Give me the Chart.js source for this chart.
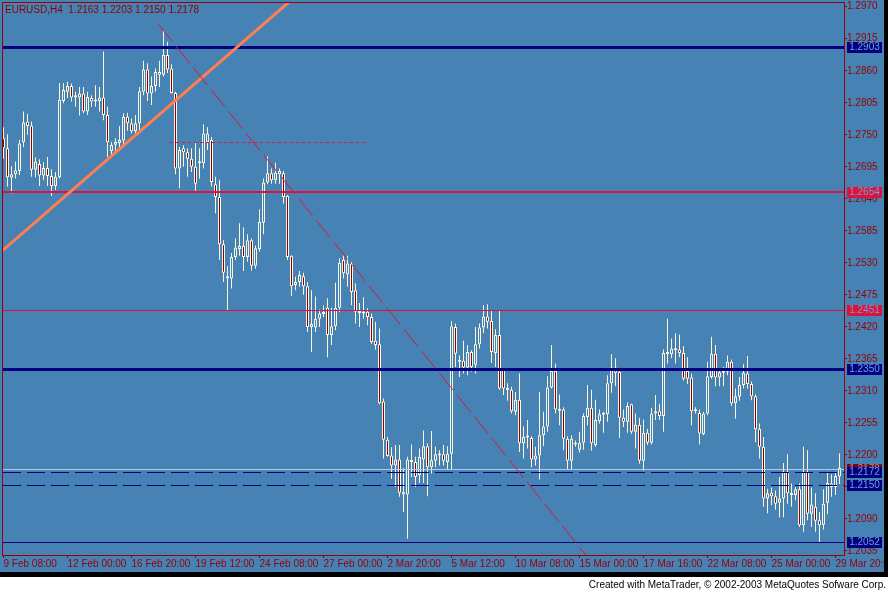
<!DOCTYPE html>
<html>
<head>
<meta charset="utf-8">
<script src="https://cdn.jsdelivr.net/npm/chart.js@4.4.0/dist/chart.umd.min.js"></script>
<style>
  html, body { margin: 0; padding: 0; background: #fff; }
  canvas { display: block; }
</style>
</head>
<body>
<canvas id="chart" width="888" height="593"></canvas>
<script>
// EURUSD H4 candles, 9 Feb 08:00 .. 30 Mar (one value per bar)
const opens = [
  1.2744,1.2727,1.2676,1.2682,1.2688,1.2737,1.2773,1.2766,1.2690,1.2700,
  1.2680,1.2693,1.2679,1.2662,1.2677,1.2808,1.2824,1.2834,1.2814,1.2814,
  1.2821,1.2790,1.2813,1.2807,1.2808,1.2814,1.2784,1.2722,1.2733,1.2736,
  1.2740,1.2781,1.2770,1.2756,1.2770,1.2824,1.2862,1.2821,1.2834,1.2858,
  1.2853,1.2887,1.2864,1.2822,1.2692,1.2727,1.2720,1.2709,1.2695,1.2701,
  1.2701,1.2737,1.2741,1.2665,1.2643,1.2562,1.2503,1.2503,1.2540,1.2554,
  1.2559,1.2540,1.2569,1.2525,1.2554,1.2599,1.2668,1.2684,1.2672,1.2682,
  1.2684,1.2645,1.2542,1.2492,1.2497,1.2507,1.2490,1.2420,1.2419,1.2434,
  1.2442,1.2453,1.2406,1.2421,1.2453,1.2535,1.2510,1.2528,1.2483,1.2444,
  1.2443,1.2446,1.2437,1.2396,1.2390,1.2292,1.2226,1.2199,1.2182,1.2192,
  1.2132,1.2132,1.2188,1.2188,1.2165,1.2192,1.2215,1.2179,1.2190,1.2199,
  1.2201,1.2188,1.2202,1.2420,1.2362,1.2362,1.2350,1.2377,1.2355,1.2390,
  1.2419,1.2438,1.2430,1.2375,1.2406,1.2346,1.2311,1.2312,1.2274,1.2295,
  1.2220,1.2231,1.2229,1.2192,1.2199,1.2234,1.2249,1.2316,1.2344,1.2276,
  1.2278,1.2228,1.2190,1.2218,1.2209,1.2221,1.2265,1.2281,1.2217,1.2258,
  1.2269,1.2270,1.2323,1.2350,1.2343,1.2264,1.2257,1.2287,1.2240,1.2252,
  1.2190,1.2238,1.2221,1.2271,1.2275,1.2267,1.2373,1.2373,1.2380,1.2381,
  1.2375,1.2344,1.2333,1.2275,1.2272,1.2236,1.2271,1.2334,1.2374,1.2333,
  1.2341,1.2343,1.2360,1.2289,1.2300,1.2320,1.2340,1.2322,1.2301,1.2245,
  1.2214,1.2125,1.2135,1.2129,1.2118,1.2125,1.2171,1.2134,1.2131,1.2141,
  1.2079,1.2171,1.2099,1.2111,1.2088,1.2080,1.2118,1.2151,1.2145,1.2163
];
const highs = [
  1.2763,1.2751,1.2696,1.2704,1.2741,1.2790,1.2786,1.2773,1.2711,1.2708,
  1.2703,1.2712,1.2691,1.2686,1.2839,1.2839,1.2841,1.2838,1.2824,1.2832,
  1.2832,1.2824,1.2818,1.2835,1.2832,1.2893,1.2798,1.2738,1.2744,1.2765,
  1.2787,1.2788,1.2778,1.2784,1.2832,1.2877,1.2873,1.2850,1.2864,1.2877,
  1.2929,1.2910,1.2871,1.2824,1.2729,1.2732,1.2727,1.2727,1.2737,1.2727,
  1.2768,1.2763,1.2746,1.2678,1.2672,1.2569,1.2524,1.2547,1.2572,1.2598,
  1.2591,1.2579,1.2572,1.2560,1.2622,1.2675,1.2713,1.2692,1.2702,1.2692,
  1.2688,1.2646,1.2543,1.2506,1.2516,1.2513,1.2497,1.2483,1.2472,1.2450,
  1.2457,1.2469,1.2453,1.2496,1.2538,1.2542,1.2542,1.2531,1.2495,1.2461,
  1.2471,1.2452,1.2443,1.2429,1.2417,1.2297,1.2231,1.2213,1.2217,1.2217,
  1.2177,1.2197,1.2218,1.2197,1.2211,1.2242,1.2220,1.2241,1.2214,1.2208,
  1.2217,1.2215,1.2430,1.2426,1.2371,1.2396,1.2389,1.2380,1.2420,1.2426,
  1.2457,1.2459,1.2449,1.2416,1.2449,1.2349,1.2323,1.2317,1.2308,1.2340,
  1.2249,1.2260,1.2232,1.2214,1.2308,1.2274,1.2335,1.2389,1.2357,1.2304,
  1.2282,1.2232,1.2234,1.2225,1.2240,1.2271,1.2320,1.2312,1.2295,1.2278,
  1.2274,1.2337,1.2373,1.2366,1.2346,1.2278,1.2290,1.2288,1.2271,1.2264,
  1.2261,1.2245,1.2281,1.2303,1.2288,1.2381,1.2434,1.2400,1.2409,1.2407,
  1.2387,1.2368,1.2340,1.2282,1.2278,1.2274,1.2360,1.2403,1.2389,1.2347,
  1.2351,1.2371,1.2364,1.2314,1.2334,1.2356,1.2370,1.2326,1.2304,1.2254,
  1.2231,1.2142,1.2144,1.2139,1.2162,1.2186,1.2201,1.2151,1.2145,1.2151,
  1.2214,1.2208,1.2144,1.2134,1.2102,1.2141,1.2171,1.2167,1.2171,1.2203
];
const lows = [
  1.2709,1.2661,1.2649,1.2675,1.2681,1.2729,1.2750,1.2678,1.2677,1.2662,
  1.2672,1.2662,1.2645,1.2655,1.2675,1.2804,1.2813,1.2807,1.2798,1.2783,
  1.2787,1.2784,1.2798,1.2798,1.2790,1.2775,1.2712,1.2715,1.2721,1.2728,
  1.2734,1.2757,1.2752,1.2752,1.2754,1.2818,1.2808,1.2801,1.2824,1.2832,
  1.2850,1.2856,1.2821,1.2682,1.2658,1.2695,1.2678,1.2686,1.2654,1.2675,
  1.2692,1.2724,1.2661,1.2615,1.2535,1.2497,1.2449,1.2486,1.2535,1.2542,
  1.2516,1.2532,1.2517,1.2520,1.2549,1.2579,1.2665,1.2666,1.2666,1.2666,
  1.2632,1.2535,1.2473,1.2483,1.2489,1.2475,1.2411,1.2377,1.2411,1.2420,
  1.2437,1.2368,1.2389,1.2414,1.2445,1.2503,1.2489,1.2457,1.2426,1.2420,
  1.2434,1.2423,1.2391,1.2381,1.2287,1.2194,1.2197,1.2159,1.2145,1.2128,
  1.2102,1.2056,1.2162,1.2145,1.2152,1.2152,1.2129,1.2168,1.2179,1.2182,
  1.2182,1.2174,1.2174,1.2351,1.2334,1.2340,1.2337,1.2343,1.2340,1.2383,
  1.2409,1.2417,1.2358,1.2351,1.2312,1.2303,1.2293,1.2271,1.2268,1.2205,
  1.2194,1.2211,1.2179,1.2182,1.2158,1.2215,1.2240,1.2314,1.2271,1.2251,
  1.2208,1.2174,1.2174,1.2214,1.2204,1.2209,1.2251,1.2207,1.2214,1.2254,
  1.2238,1.2257,1.2307,1.2318,1.2229,1.2248,1.2238,1.2236,1.2211,1.2185,
  1.2173,1.2217,1.2218,1.2260,1.2260,1.2240,1.2357,1.2366,1.2357,1.2368,
  1.2328,1.2322,1.2251,1.2271,1.2218,1.2234,1.2268,1.2331,1.2318,1.2318,
  1.2318,1.2337,1.2284,1.2262,1.2293,1.2314,1.2314,1.2294,1.2222,1.2194,
  1.2111,1.2100,1.2114,1.2106,1.2093,1.2093,1.2116,1.2111,1.2122,1.2076,
  1.2068,1.2088,1.2076,1.2068,1.2050,1.2072,1.2098,1.2128,1.2131,1.2150
];
const closes = [
  1.2727,1.2677,1.2682,1.2689,1.2735,1.2771,1.2765,1.2690,1.2704,1.2680,
  1.2693,1.2679,1.2662,1.2678,1.2810,1.2827,1.2834,1.2814,1.2818,1.2821,
  1.2790,1.2815,1.2807,1.2810,1.2814,1.2784,1.2737,1.2733,1.2738,1.2741,
  1.2781,1.2770,1.2756,1.2770,1.2825,1.2862,1.2821,1.2834,1.2858,1.2853,
  1.2887,1.2862,1.2822,1.2692,1.2724,1.2720,1.2709,1.2695,1.2666,1.2703,
  1.2752,1.2752,1.2669,1.2643,1.2562,1.2513,1.2507,1.2540,1.2556,1.2559,
  1.2540,1.2569,1.2525,1.2555,1.2600,1.2668,1.2684,1.2672,1.2685,1.2688,
  1.2643,1.2540,1.2490,1.2497,1.2509,1.2490,1.2420,1.2425,1.2434,1.2443,
  1.2445,1.2406,1.2421,1.2453,1.2530,1.2512,1.2529,1.2480,1.2446,1.2447,
  1.2446,1.2437,1.2394,1.2389,1.2289,1.2226,1.2198,1.2182,1.2192,1.2135,
  1.2136,1.2192,1.2191,1.2162,1.2197,1.2215,1.2179,1.2191,1.2201,1.2201,
  1.2190,1.2202,1.2421,1.2374,1.2360,1.2350,1.2377,1.2351,1.2390,1.2419,
  1.2438,1.2429,1.2377,1.2406,1.2314,1.2314,1.2315,1.2275,1.2295,1.2220,
  1.2231,1.2230,1.2192,1.2199,1.2234,1.2249,1.2316,1.2344,1.2278,1.2278,
  1.2228,1.2190,1.2228,1.2221,1.2221,1.2267,1.2281,1.2220,1.2260,1.2270,
  1.2270,1.2323,1.2350,1.2341,1.2264,1.2257,1.2284,1.2240,1.2252,1.2190,
  1.2238,1.2221,1.2271,1.2275,1.2267,1.2375,1.2377,1.2383,1.2383,1.2375,
  1.2331,1.2331,1.2275,1.2278,1.2237,1.2271,1.2335,1.2374,1.2333,1.2342,
  1.2344,1.2360,1.2289,1.2301,1.2320,1.2341,1.2322,1.2301,1.2244,1.2214,
  1.2125,1.2134,1.2129,1.2116,1.2125,1.2171,1.2134,1.2131,1.2141,1.2079,
  1.2171,1.2099,1.2115,1.2087,1.2079,1.2116,1.2152,1.2145,1.2164,1.2178
];

// one date label every 16 bars
const dateLabels = ['9 Feb 08:00', '12 Feb 00:00', '16 Feb 20:00', '19 Feb 12:00',
  '24 Feb 08:00', '27 Feb 00:00', '2 Mar 20:00', '5 Mar 12:00', '10 Mar 08:00',
  '15 Mar 00:00', '17 Mar 16:00', '22 Mar 08:00', '25 Mar 00:00', '29 Mar 20:00'];
const barsPerLabel = 16;
const priceTicks = [1.2035, 1.2090, 1.2145, 1.2200, 1.2255, 1.2310, 1.2365, 1.2420, 1.2475,
  1.2530, 1.2585, 1.2640, 1.2695, 1.2750, 1.2805, 1.2860, 1.2915, 1.2970];

// horizontal levels and trend lines (bar index, price)
const levelPrices = [1.2903, 1.2654, 1.2451, 1.2350, 1.2172, 1.2150, 1.2052];
const bidPrice = 1.2178;
const coralTrend = [[25.4, 1.2704], [56.6, 1.2890]];
const redRay = [[38.7, 1.2940], [143.6, 1.2045]];
const redDotted = [[41.6, 1.2737], [90.9, 1.2737]];
const headerText = 'EURUSD,H4  1.2163 1.2203 1.2150 1.2178';
const footerText = 'Created with MetaTrader, \u00a9 2002-2003 MetaQuotes Sofware Corp.';

const BG = '#4682b4';
const BEAR = '#8b0000';
const CANDLE = '#fbf6e0';
const AXIS = '#990000';
const NAVY = '#000080';
const CRIMSON = '#dc143c';
const FONT = "'Liberation Sans', Arial, sans-serif";

const levelStyles = [
  {color: NAVY, width: 3, dash: [], box: NAVY},
  {color: CRIMSON, width: 2, dash: [], box: CRIMSON},
  {color: CRIMSON, width: 1, dash: [], box: CRIMSON},
  {color: NAVY, width: 3, dash: [], box: NAVY},
  {color: NAVY, width: 1, dash: [18, 6], box: NAVY},
  {color: NAVY, width: 1, dash: [18, 6], box: NAVY},
  {color: NAVY, width: 1, dash: [], box: NAVY}
];

const idx = opens.map((_, i) => i);
const bodyData = idx.map(i => ({x: i, y: [opens[i], closes[i]]}));
const wickData = idx.map(i => ({x: i, y: [lows[i], highs[i]]}));
const bodyFill = idx.map(i => closes[i] >= opens[i] ? BG : BEAR);

// MetaTrader centres a horizontal line one row under the rounded price pixel
function levelY(v, w) {
  return Math.round(v) + 1 + (w % 2 ? 0.5 : 0);
}

function segment(ctx, x1, y1, x2, y2, color, width, dash) {
  ctx.save();
  ctx.strokeStyle = color;
  ctx.lineWidth = width;
  ctx.setLineDash(dash);
  ctx.beginPath();
  ctx.moveTo(x1, y1);
  ctx.lineTo(x2, y2);
  ctx.stroke();
  ctx.restore();
}

const overlay = {
  id: 'overlay',
  beforeDraw(chart) {
    const ctx = chart.ctx;
    ctx.save();
    ctx.fillStyle = BG;
    ctx.fillRect(0, 0, chart.width, chart.height);
    ctx.restore();
  },
  afterDatasetsDraw(chart) {
    const {ctx, chartArea: a, scales: {x, y}} = chart;
    ctx.save();
    ctx.beginPath();
    ctx.rect(a.left, a.top, a.right - a.left, a.bottom - a.top);
    ctx.clip();

    // last price line
    const by = levelY(y.getPixelForValue(bidPrice), 1);
    segment(ctx, a.left, by, a.right, by, '#b4cce4', 1, []);

    levelPrices.forEach((p, i) => {
      const s = levelStyles[i];
      const py = levelY(y.getPixelForValue(p), s.width);
      segment(ctx, a.left, py, a.right, py, s.color, s.width, s.dash);
    });

    // coral trend line, extended both ways
    let [p1, p2] = coralTrend.map(([k, v]) => [x.getPixelForValue(k), y.getPixelForValue(v)]);
    let slope = (p2[1] - p1[1]) / (p2[0] - p1[0]);
    segment(ctx, a.left, p1[1] + (a.left - p1[0]) * slope, a.right, p1[1] + (a.right - p1[0]) * slope, '#ff7f50', 3, []);

    // red dashed ray
    [p1, p2] = redRay.map(([k, v]) => [x.getPixelForValue(k), y.getPixelForValue(v)]);
    slope = (p2[1] - p1[1]) / (p2[0] - p1[0]);
    segment(ctx, p1[0], p1[1], a.right, p1[1] + (a.right - p1[0]) * slope, CRIMSON, 1, [22, 6]);

    // red dotted segment
    const dy = Math.floor(y.getPixelForValue(redDotted[0][1])) + 0.5;
    segment(ctx, x.getPixelForValue(redDotted[0][0]), dy, x.getPixelForValue(redDotted[1][0]), dy, CRIMSON, 1, [3, 3]);
    ctx.restore();
  },
  afterDraw(chart) {
    const {ctx, chartArea: a, scales: {y}} = chart;
    ctx.save();
    // frame
    ctx.strokeStyle = AXIS;
    ctx.lineWidth = 1;
    ctx.strokeRect(a.left - 0.5, a.top - 0.5, a.right - a.left + 1, a.bottom - a.top + 1);

    // price boxes on the axis
    ctx.font = '10px ' + FONT;
    ctx.textAlign = 'center';
    ctx.textBaseline = 'middle';
    const box = (p, fill) => {
      const py = Math.round(y.getPixelForValue(p)) + 1;
      ctx.fillStyle = fill;
      ctx.fillRect(a.right + 3, py - 5, 35, 11);
      ctx.fillStyle = '#6e9fd9';
      ctx.fillText(p.toFixed(4), a.right + 20.5, py + 0.5);
    };
    box(bidPrice, '#8b0000');
    levelPrices.forEach((p, i) => box(p, levelStyles[i].box));

    // header
    ctx.textAlign = 'left';
    ctx.fillStyle = '#8b0000';
    ctx.fillText(headerText, 5, 10);

    // black edges and footer
    ctx.fillStyle = '#000';
    ctx.fillRect(884, 0, 4, 577);
    ctx.fillRect(0, 572, 888, 5);
    ctx.fillStyle = '#fff';
    ctx.fillRect(0, 577, 888, 16);
    ctx.fillStyle = '#000';
    ctx.textAlign = 'right';
    ctx.fillText(footerText, 886, 585);
    ctx.restore();
  }
};

const ctx = document.getElementById('chart').getContext('2d');
const myChart = new Chart(ctx, {
  type: 'bar',
  data: {
    datasets: [
      {
        data: bodyData,
        backgroundColor: bodyFill,
        borderColor: CANDLE,
        borderWidth: 1,
        borderSkipped: false,
        barThickness: 3,
        minBarLength: 2,
        grouped: false,
        inflateAmount: 0,
        order: 1
      },
      {
        data: wickData,
        backgroundColor: CANDLE,
        borderWidth: 0,
        barThickness: 1,
        grouped: false,
        inflateAmount: 0,
        order: 2
      }
    ]
  },
  options: {
    responsive: false,
    devicePixelRatio: 1,
    animation: false,
    events: [],
    layout: { padding: { left: 3, top: 3, right: 0, bottom: 0 } },
    plugins: { legend: { display: false }, tooltip: { enabled: false } },
    scales: {
      x: {
        type: 'linear',
        min: -0.125,
        max: 210.125,
        offset: false,
        afterBuildTicks: (s) => { s.ticks = dateLabels.map((_, i) => ({ value: i * barsPerLabel })); },
        afterFit: (s) => { s.height = 38; s.paddingLeft = 0; s.paddingRight = 0; },
        grid: { display: true, drawOnChartArea: false, drawTicks: true, tickLength: 3, color: AXIS, offset: false },
        border: { display: false },
        ticks: {
          autoSkip: false, maxRotation: 0, minRotation: 0, align: 'start', padding: 0,
          color: AXIS, font: { family: FONT, size: 10 },
          callback: (v) => dateLabels[Math.round(v / barsPerLabel)] || ''
        }
      },
      y: {
        type: 'linear',
        position: 'right',
        min: 1.20281,
        max: 1.29764,
        afterBuildTicks: (s) => { s.ticks = priceTicks.map(v => ({ value: v })); },
        afterFit: (s) => { s.width = 44; s.paddingTop = 0; s.paddingBottom = 0; },
        grid: { display: true, drawOnChartArea: false, drawTicks: true, tickLength: 3, color: AXIS },
        border: { display: false },
        ticks: {
          autoSkip: false, padding: 0, color: AXIS, font: { family: FONT, size: 10 },
          callback: (v) => Number(v).toFixed(4)
        }
      }
    }
  },
  plugins: [overlay]
});
</script>
</body>
</html>
